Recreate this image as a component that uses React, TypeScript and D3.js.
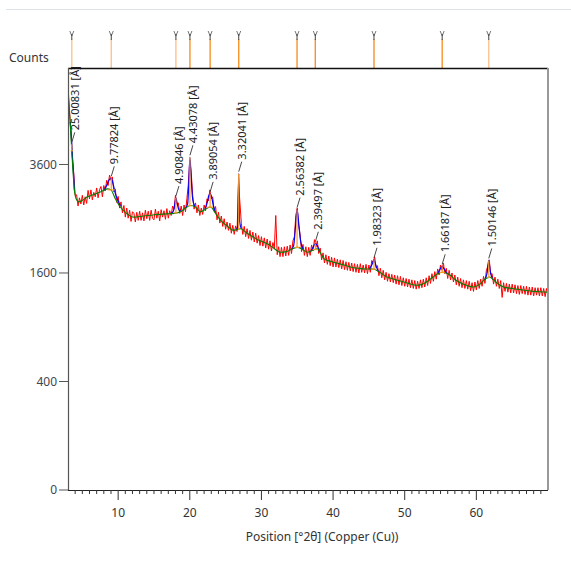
import React from "react";
import * as d3 from "d3";

// observed scan, counts every 0.2 deg 2theta starting at 3.0
const scanStart = 3.0;
const scanStep = 0.2;
const observedCounts = [
  5560, 4900, 4420, 3780, 3420, 2950, 2960, 2740, 2900, 2780,
  2950, 2760, 2920, 2790, 3050, 2880, 3060, 2860, 3010, 2920,
  3100, 2900, 3060, 3130, 2920, 3150, 3040, 3260, 3150, 3370,
  3260, 3330, 3020, 3080, 2810, 2930, 2700, 2820, 2610, 2750,
  2530, 2700, 2510, 2660, 2450, 2630, 2600, 2440, 2620, 2470,
  2640, 2470, 2610, 2460, 2660, 2500, 2640, 2470, 2660, 2510,
  2480, 2680, 2510, 2640, 2460, 2670, 2530, 2650, 2490, 2690,
  2510, 2650, 2560, 2740, 2680, 2950, 2780, 2800, 2600, 2740,
  2560, 2760, 2630, 2890, 3180, 3700, 3420, 2950, 2680, 2800,
  2610, 2760, 2560, 2700, 2580, 2760, 2650, 2880, 2840, 3060,
  2880, 2920, 2640, 2730, 2480, 2620, 2420, 2550, 2360, 2500,
  2310, 2440, 2290, 2420, 2240, 2380, 2220, 2370, 2270, 3200,
  2800, 2410, 2220, 2360, 2180, 2320, 2150, 2290, 2120, 2260,
  2090, 2240, 2070, 2200, 2030, 2180, 2020, 2160, 1990, 2140,
  1970, 2110, 1940, 2080, 1980, 2560, 1880, 2010, 1850, 2000,
  1850, 2010, 1860, 2020, 1870, 2040, 1900, 2110, 2180, 2560,
  2700, 2380, 2210, 1930, 2050, 1870, 2010, 1850, 2000, 1870,
  2040, 1940, 2130, 2000, 2110, 1900, 1990, 1800, 1910, 1750,
  1880, 1730, 1860, 1710, 1840, 1690, 1830, 1690, 1810, 1680,
  1800, 1660, 1790, 1650, 1770, 1640, 1760, 1630, 1750, 1620,
  1740, 1610, 1730, 1600, 1740, 1610, 1720, 1600, 1730, 1590,
  1720, 1610, 1790, 1760, 1850, 1680, 1710, 1560, 1670, 1530,
  1640, 1500, 1610, 1480, 1590, 1470, 1580, 1460, 1570, 1440,
  1560, 1430, 1550, 1420, 1530, 1410, 1520, 1400, 1510, 1390,
  1500, 1380, 1490, 1370, 1480, 1380, 1500, 1390, 1510, 1400,
  1530, 1420, 1560, 1450, 1590, 1480, 1620, 1510, 1660, 1570,
  1720, 1640, 1750, 1590, 1670, 1520, 1640, 1500, 1600, 1470,
  1570, 1430, 1540, 1410, 1520, 1390, 1500, 1380, 1490, 1370,
  1480, 1350, 1460, 1340, 1470, 1360, 1490, 1380, 1510, 1410,
  1550, 1450, 1640, 1700, 1800, 1580, 1590, 1440, 1540, 1410,
  1510, 1380, 1490, 1260, 1460, 1340, 1450, 1330, 1440, 1320,
  1440, 1320, 1430, 1310, 1420, 1300, 1420, 1310, 1410, 1300,
  1410, 1290, 1400, 1290, 1400, 1280, 1390, 1290, 1390, 1280,
  1390, 1280, 1380, 1270, 1380, 1300,
];

// background curve [2theta, counts]
const backgroundPoints = [
  [3.0, 5400], [3.3, 4600], [3.6, 3700], [3.9, 3050], [4.2, 2860], [4.5, 2820],
  [5.0, 2850], [5.7, 2920], [6.5, 2960], [7.5, 3015], [8.5, 3080], [9.0, 3060],
  [9.6, 2880], [10.3, 2720], [11.0, 2620], [12.2, 2530], [13.5, 2550], [14.5, 2565],
  [15.5, 2580], [16.8, 2590], [17.8, 2600], [18.7, 2630], [19.5, 2710], [20.1, 2750],
  [20.8, 2720], [21.5, 2630], [22.2, 2680], [22.9, 2720], [23.6, 2600], [24.3, 2470],
  [25.2, 2370], [26.1, 2290], [27.1, 2320], [28.0, 2240], [28.9, 2170], [29.8, 2110],
  [30.8, 2060], [31.7, 1990], [32.6, 1920], [33.5, 1930], [34.3, 1975], [35.0, 2000],
  [35.7, 1970], [36.4, 1920], [37.1, 1950], [37.8, 1975], [38.7, 1820], [39.5, 1780],
  [40.5, 1750], [41.5, 1720], [42.4, 1690], [43.5, 1670], [44.5, 1660], [45.6, 1660],
  [46.5, 1610], [47.5, 1540], [48.5, 1510], [49.5, 1480], [50.5, 1450], [51.7, 1425],
  [52.7, 1450], [53.7, 1520], [54.6, 1590], [55.4, 1610], [56.3, 1570], [57.2, 1490],
  [58.2, 1440], [59.6, 1400], [60.5, 1440], [61.2, 1510], [61.9, 1540], [62.7, 1470],
  [63.8, 1400], [65.0, 1380], [66.5, 1360], [68.0, 1340], [69.8, 1330], [70.0, 1325],
];

// fitted peaks
const peakPositions = [3.53, 9.04, 18.06, 20.02, 22.84, 26.83, 34.97, 37.52, 45.71, 55.23, 61.73];
const dSpacings = ["25.00831", "9.77824", "4.90846", "4.43078", "3.89054", "3.32041", "2.56382", "2.39497", "1.98323", "1.66187", "1.50146"];
const peakTops = [4060, 3300, 2895, 3760, 2980, 3400, 2670, 2060, 1800, 1700, 1790];
const peakBases = [3910, 3060, 2610, 2745, 2718, 2312, 2000, 1965, 1657, 1607, 1536];
const peakWidths = [0.3, 1.0, 0.5, 0.45, 0.8, 0.2, 0.6, 0.7, 0.6, 0.7, 0.45];
const referenceMatched = [false, false, false, true, true, true, true, true, true, true, false];

// calculated profile around each peak [2theta, counts]
const peakProfiles = [
  [[3.3, 4600], [3.4, 4390], [3.53, 4060], [3.65, 3680], [3.8, 3330], [3.9, 3050]],
  [[8.0, 3048], [8.4, 3150], [8.7, 3260], [9.04, 3300], [9.3, 3180], [9.6, 2990], [10.0, 2840], [10.3, 2740]],
  [[17.4, 2600], [17.7, 2640], [17.9, 2760], [18.06, 2895], [18.25, 2780], [18.5, 2660], [18.8, 2640]],
  [[19.4, 2700], [19.7, 2780], [19.85, 3150], [20.02, 3760], [20.2, 3300], [20.4, 2880], [20.7, 2735]],
  [[22.1, 2675], [22.4, 2790], [22.65, 2940], [22.84, 2980], [23.05, 2920], [23.3, 2740], [23.6, 2610]],
  [[26.5, 2300], [26.7, 2360], [26.83, 3400], [26.95, 2450], [27.2, 2320]],
  [[34.2, 1970], [34.5, 2030], [34.75, 2350], [34.97, 2670], [35.2, 2420], [35.45, 2120], [35.8, 1965]],
  [[36.9, 1935], [37.2, 2000], [37.52, 2060], [37.8, 2030], [38.1, 1930]],
  [[45.1, 1662], [45.45, 1730], [45.71, 1800], [45.95, 1720], [46.3, 1625]],
  [[54.6, 1590], [54.95, 1660], [55.23, 1700], [55.5, 1660], [55.9, 1590]],
  [[61.2, 1510], [61.5, 1600], [61.73, 1790], [61.95, 1620], [62.3, 1505]],
];

const xTicks = [10, 20, 30, 40, 50, 60];
const yTicks = [0, 400, 1600, 3600];

const font = "'Segoe UI', 'Noto Sans', sans-serif";

export default function App() {
  const left = 68, right = 548, top = 68, bottom = 490;
  const x = d3.scaleLinear().domain([3, 70]).range([left, right]);
  const y = d3.scaleSqrt().domain([0, 6050]).range([bottom, top]);

  const observed = observedCounts.map((c, i) => [scanStart + i * scanStep, c]);
  const line = d3.line<number[]>().x((d) => x(d[0])).y((d) => y(d[1]));
  const smooth = d3.line<number[]>().x((d) => x(d[0])).y((d) => y(d[1])).curve(d3.curveMonotoneX);

  const minorTicks = d3.range(4, 70).filter((t) => t % 10 !== 0);

  return (
    <svg width={571} height={562} style={{ position: "absolute", left: 0, top: 0, background: "#fff" }}>
      <defs>
        <clipPath id="plot">
          <rect x={left} y={top} width={right - left} height={bottom - top} />
        </clipPath>
      </defs>
      <line x1={6} x2={571} y1={9.5} y2={9.5} stroke="#dde3e8" />

      <text x={9} y={62} fontFamily={font} fontSize={12} fill="#333">Counts</text>

      {/* reference markers above the plot */}
      {peakPositions.map((p, i) => (
        <g key={"m" + i}>
          <line x1={x(p)} x2={x(p)} y1={39} y2={top} stroke={referenceMatched[i] ? "#f7932a" : "#fbc48e"} strokeWidth={1.4} />
          <path d={`M${x(p) - 2},31 L${x(p)},36 L${x(p) + 2},31`} fill="none" stroke="#777" strokeWidth={1} />
          <line x1={x(p)} x2={x(p)} y1={34} y2={40} stroke="#444" strokeWidth={1} />
        </g>
      ))}

      <g clipPath="url(#plot)">
        <path d={line(observed) ?? ""} fill="none" stroke="#ff0000" strokeWidth={1} />
        {peakProfiles.map((pts, i) => (
          <path key={"p" + i} d={smooth(pts) ?? ""} fill="none" stroke="#0000ff" strokeWidth={1.2} />
        ))}
        <path d={smooth(backgroundPoints) ?? ""} fill="none" stroke="#008000" strokeWidth={1.1} />
        {peakPositions.map((p, i) => (
          <g key={"s" + i} stroke="#ff9a1f" strokeWidth={1.2}>
            <line x1={x(p)} x2={x(p)} y1={y(peakBases[i])} y2={y(peakTops[i])} />
            <line x1={x(p - peakWidths[i] / 2)} x2={x(p + peakWidths[i] / 2)} y1={y(peakBases[i])} y2={y(peakBases[i])} />
          </g>
        ))}
      </g>

      {/* d-spacing labels */}
      {peakPositions.map((p, i) => {
        const px = x(p);
        const py = y(peakTops[i]);
        return (
          <g key={"l" + i}>
            <line x1={px} y1={py - 2} x2={px + 3} y2={py - 12} stroke="#333" strokeWidth={0.9} />
            <text
              transform={`translate(${px + 7},${py - 14}) rotate(-90)`}
              fontFamily={font}
              fontSize={11}
              fill="#222"
            >
              {dSpacings[i] + " [Å]"}
            </text>
          </g>
        );
      })}

      {/* frame */}
      <line x1={left} x2={right} y1={top + 0.5} y2={top + 0.5} stroke="#111" strokeWidth={1.3} />
      <line x1={right} x2={right} y1={top} y2={bottom} stroke="#999" strokeWidth={2} />
      <line x1={left + 0.5} x2={left + 0.5} y1={top} y2={bottom} stroke="#555" strokeWidth={1.2} />
      <line x1={left} x2={right} y1={bottom + 0.5} y2={bottom + 0.5} stroke="#222" strokeWidth={1.2} />

      {yTicks.map((t) => (
        <g key={"y" + t}>
          <line x1={59} x2={left} y1={y(t)} y2={y(t)} stroke="#555" />
          <text x={57} y={y(t)} dy="0.35em" textAnchor="end" fontFamily={font} fontSize={12} fill="#3d4752">{t}</text>
        </g>
      ))}

      {minorTicks.map((t) => (
        <line key={"n" + t} x1={x(t)} x2={x(t)} y1={bottom} y2={bottom + 4} stroke="#333" />
      ))}
      {xTicks.map((t) => (
        <g key={"x" + t}>
          <line x1={x(t)} x2={x(t)} y1={bottom} y2={bottom + 10} stroke="#333" />
          <text x={x(t)} y={517} textAnchor="middle" fontFamily={font} fontSize={12} fill="#333">{t}</text>
        </g>
      ))}
      <text x={322} y={541} textAnchor="middle" fontFamily={font} fontSize={12} fill="#333">
        Position [°2θ] (Copper (Cu))
      </text>
    </svg>
  );
}
